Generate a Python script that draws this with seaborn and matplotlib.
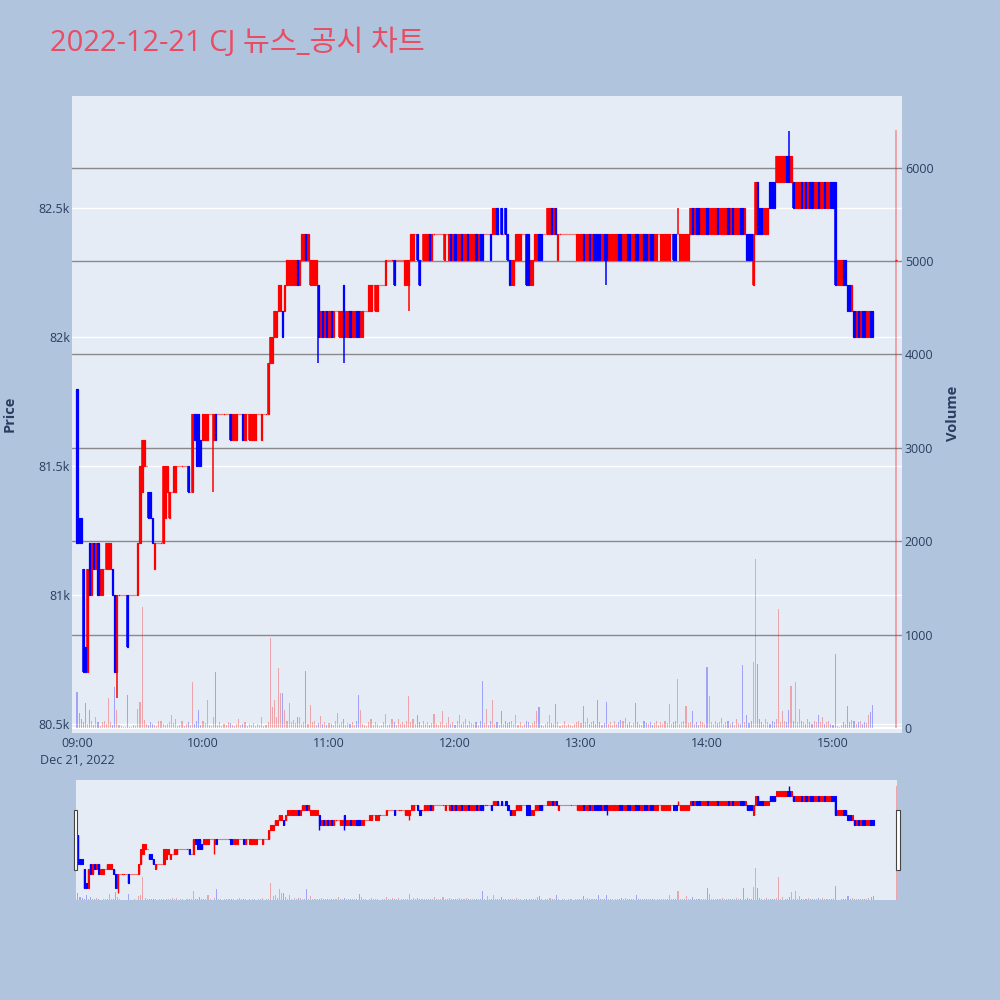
import numpy as np
import pandas as pd
import matplotlib
matplotlib.use("Agg")
import matplotlib.pyplot as plt
from matplotlib.patches import Rectangle
import seaborn as sns

# ---------------- data ----------------
title_text = "2022-12-21 CJ 뉴스_공시 차트"
price_unit = 100  # price lists below are in units of 100 won

# minutes after 09:00 (one candle per minute until 15:19, then the 15:30 closing auction)
session_minutes = list(range(380)) + [390]

opens_100 = [
    818, 813, 813, 811, 808, 807, 812, 810, 812, 811, 812, 810, 810, 811, 811, 811, 811, 811, 810, 807,
    810, 810, 810, 810, 810, 810, 810, 810, 810, 810, 812, 814, 815, 815, 814, 814, 813, 811, 812, 812,
    812, 812, 813, 814, 813, 814, 814, 814, 815, 815, 815, 815, 815, 815, 814, 814, 817, 817, 817, 816,
    816, 816, 816, 817, 817, 816, 817, 817, 817, 817, 817, 817, 817, 817, 816, 816, 816, 817, 817, 817,
    816, 817, 816, 816, 816, 816, 817, 817, 816, 817, 817, 817, 819, 819, 820, 820, 821, 821, 821, 821,
    822, 822, 822, 822, 822, 823, 822, 823, 823, 824, 823, 822, 822, 822, 822, 822, 820, 821, 820, 821,
    820, 821, 820, 821, 821, 820, 820, 822, 820, 820, 821, 820, 820, 821, 821, 820, 820, 821, 821, 821,
    821, 822, 821, 821, 822, 822, 822, 822, 823, 823, 823, 823, 823, 823, 823, 823, 822, 822, 822, 823,
    823, 824, 824, 823, 823, 823, 823, 823, 824, 823, 824, 824, 824, 824, 824, 823, 824, 823, 824, 823,
    824, 823, 823, 824, 823, 823, 824, 823, 823, 823, 824, 823, 824, 824, 824, 824, 824, 824, 824, 824,
    825, 824, 825, 824, 825, 824, 823, 822, 822, 823, 823, 823, 824, 824, 824, 824, 822, 822, 823, 823,
    824, 824, 824, 824, 824, 824, 825, 824, 825, 823, 824, 824, 824, 824, 824, 824, 824, 824, 823, 823,
    823, 824, 823, 823, 824, 823, 824, 824, 824, 824, 823, 824, 824, 823, 823, 823, 823, 823, 824, 824,
    823, 823, 824, 824, 823, 823, 824, 824, 823, 823, 824, 824, 823, 824, 824, 823, 823, 824, 823, 823,
    823, 823, 823, 824, 824, 824, 824, 823, 823, 823, 823, 823, 824, 825, 824, 825, 825, 824, 824, 824,
    825, 824, 824, 824, 824, 825, 824, 824, 824, 824, 825, 824, 825, 824, 824, 824, 825, 825, 824, 824,
    824, 824, 822, 824, 826, 825, 825, 824, 824, 824, 826, 826, 826, 826, 826, 826, 826, 826, 827, 827,
    826, 826, 825, 825, 825, 826, 825, 826, 825, 826, 826, 825, 825, 826, 825, 825, 826, 825, 825, 826,
    826, 826, 822, 822, 822, 823, 823, 822, 822, 821, 821, 820, 821, 820, 821, 821, 820, 820, 821, 821,
    823,
]

closes_100 = [
    812, 812, 812, 807, 807, 811, 810, 812, 811, 812, 810, 811, 811, 811, 812, 812, 812, 810, 807, 810,
    810, 810, 810, 810, 808, 810, 810, 810, 810, 812, 815, 816, 816, 815, 813, 813, 812, 812, 812, 812,
    812, 815, 815, 815, 814, 814, 815, 815, 815, 815, 815, 815, 815, 814, 814, 817, 816, 815, 815, 815,
    817, 817, 817, 817, 817, 817, 816, 817, 817, 817, 817, 817, 817, 816, 817, 817, 817, 817, 817, 816,
    817, 817, 817, 817, 817, 817, 817, 817, 817, 817, 817, 819, 820, 820, 821, 821, 822, 822, 820, 822,
    823, 823, 823, 823, 823, 822, 823, 824, 824, 823, 824, 823, 823, 823, 823, 820, 821, 820, 821, 820,
    821, 820, 821, 821, 821, 821, 821, 820, 821, 821, 820, 821, 821, 820, 820, 821, 821, 821, 821, 822,
    822, 822, 822, 822, 822, 822, 822, 823, 823, 823, 823, 822, 823, 823, 823, 823, 823, 823, 823, 824,
    824, 824, 823, 822, 823, 824, 824, 824, 823, 824, 824, 824, 824, 824, 824, 824, 824, 824, 823, 824,
    823, 824, 824, 823, 824, 824, 823, 824, 824, 824, 823, 824, 823, 823, 824, 824, 824, 823, 825, 825,
    824, 824, 824, 824, 824, 823, 822, 823, 823, 824, 824, 824, 824, 824, 822, 822, 823, 823, 824, 824,
    823, 823, 824, 824, 825, 825, 824, 825, 824, 824, 824, 824, 824, 824, 824, 824, 824, 824, 824, 824,
    824, 823, 824, 824, 823, 824, 823, 823, 823, 823, 824, 823, 823, 824, 824, 824, 824, 824, 823, 823,
    824, 824, 823, 823, 824, 824, 823, 823, 824, 824, 823, 823, 824, 823, 823, 824, 824, 824, 824, 824,
    824, 824, 824, 824, 823, 823, 824, 824, 824, 824, 824, 824, 825, 824, 825, 824, 824, 825, 825, 825,
    824, 825, 825, 825, 825, 824, 825, 825, 825, 825, 824, 825, 824, 825, 825, 825, 824, 824, 825, 823,
    823, 823, 824, 826, 824, 824, 824, 825, 825, 825, 825, 825, 825, 827, 827, 827, 827, 827, 826, 826,
    827, 825, 826, 826, 826, 825, 826, 825, 826, 825, 825, 826, 826, 825, 826, 826, 825, 826, 826, 825,
    825, 822, 823, 823, 823, 822, 822, 821, 821, 822, 820, 821, 820, 821, 820, 820, 821, 821, 820, 820,
    823,
]

# candles whose wick reaches beyond the body
wick_minutes = [19, 65, 115, 127, 158, 252, 286, 339]
wick_highs_100 = [810, 817, 822, 822, 823, 824, 825, 828]
wick_lows_100 = [806, 814, 819, 819, 821, 822, 824, 826]

volumes = [
    385, 160, 100, 60, 265, 40, 195, 80, 30, 120, 60, 25, 60, 80, 40, 320, 60, 30, 440, 195,
    30, 20, 15, 10, 355, 15, 10, 30, 20, 200, 280, 1300, 90, 40, 30, 60, 40, 30, 20, 70,
    80, 40, 30, 40, 60, 140, 50, 100, 20, 30, 80, 20, 40, 60, 30, 490, 40, 70, 195, 30,
    80, 50, 300, 30, 20, 120, 600, 30, 60, 20, 40, 30, 60, 50, 30, 20, 40, 100, 30, 40,
    60, 20, 40, 30, 50, 20, 40, 30, 115, 20, 30, 60, 960, 225, 300, 120, 640, 370, 370, 190,
    80, 270, 60, 90, 50, 120, 120, 40, 60, 610, 40, 250, 60, 80, 30, 50, 130, 40, 60, 30,
    50, 40, 30, 80, 156, 40, 60, 100, 30, 50, 40, 60, 30, 70, 350, 190, 40, 30, 20, 60,
    100, 30, 60, 40, 20, 30, 60, 145, 30, 40, 100, 60, 30, 100, 40, 60, 40, 80, 340, 60,
    100, 40, 140, 60, 30, 80, 40, 60, 30, 50, 155, 40, 30, 60, 180, 30, 50, 120, 40, 60,
    30, 80, 140, 40, 60, 100, 30, 70, 50, 40, 60, 30, 80, 500, 50, 200, 30, 80, 295, 40,
    60, 30, 185, 40, 70, 50, 60, 80, 40, 140, 30, 60, 20, 40, 80, 60, 30, 50, 70, 185,
    220, 30, 20, 40, 60, 140, 50, 40, 260, 60, 20, 30, 75, 20, 40, 30, 20, 40, 60, 80,
    50, 240, 60, 110, 40, 60, 80, 40, 295, 60, 30, 50, 280, 40, 60, 30, 75, 40, 60, 90,
    75, 110, 40, 60, 30, 50, 265, 60, 40, 30, 75, 50, 40, 60, 30, 50, 80, 30, 60, 40,
    70, 50, 260, 40, 60, 80, 525, 40, 60, 80, 240, 50, 60, 177, 40, 60, 30, 80, 60, 40,
    657, 340, 60, 40, 80, 50, 60, 110, 40, 60, 80, 40, 60, 30, 95, 50, 40, 670, 60, 140,
    50, 80, 712, 1812, 680, 95, 60, 40, 95, 60, 40, 80, 60, 100, 1275, 60, 180, 80, 60, 190,
    450, 80, 490, 60, 200, 80, 60, 40, 95, 60, 40, 80, 60, 140, 60, 115, 40, 60, 80, 40,
    30, 795, 20, 15, 30, 60, 40, 240, 60, 90, 75, 40, 60, 80, 40, 60, 50, 140, 170, 250,
    6400,
]

hour_positions = [0, 60, 120, 180, 240, 300, 360]
hour_labels = ["09:00\nDec 21, 2022", "10:00", "11:00", "12:00", "13:00", "14:00", "15:00"]
price_ticks = [80500, 81000, 81500, 82000, 82500]
price_tick_labels = ["80.5k", "81k", "81.5k", "82k", "82.5k"]
volume_ticks = [0, 1000, 2000, 3000, 4000, 5000, 6000]

# ---------------- style ----------------
sns.set_theme(style="white")
plt.rcParams["font.family"] = ["Open Sans", "Noto Sans CJK KR", "DejaVu Sans"]

UP, DOWN = "#FF0000", "#0000FF"
PLOT_BG = "#E5ECF6"
PAPER_BG = "#B0C4DE"
TEXT = "#2a3f5f"

x = np.array(session_minutes, dtype=float)
opens = np.array(opens_100, dtype=float) * price_unit
closes = np.array(closes_100, dtype=float) * price_unit
highs = np.maximum(opens, closes)
lows = np.minimum(opens, closes)
for m, h, l in zip(wick_minutes, wick_highs_100, wick_lows_100):
    i = session_minutes.index(m)
    highs[i] = h * price_unit
    lows[i] = l * price_unit
direction = np.where(closes >= opens, "up", "down")
palette = {"up": UP, "down": DOWN}

df = pd.DataFrame({"minute": x, "volume": volumes, "direction": direction})


def draw_candles(target, body_w, edge_lw, wick_lw):
    for key, col in palette.items():
        sel = direction == key
        target.vlines(x[sel], lows[sel], highs[sel], color=col,
                      linewidth=wick_lw, zorder=3)
        target.bar(x[sel], np.abs(closes - opens)[sel],
                   bottom=np.minimum(opens, closes)[sel], width=body_w,
                   color=col, edgecolor=col, linewidth=edge_lw, zorder=4)


def draw_volume(target):
    sns.barplot(data=df, x="minute", y="volume", hue="direction",
                palette=palette, native_scale=True, dodge=False, width=0.5,
                saturation=1, alpha=0.3, errorbar=None, legend=False,
                linewidth=0, ax=target)


PRICE_LIM = (80465, 82934)
VOL_LIM = (-53.5, 6767)

fig = plt.figure(figsize=(10, 10), dpi=100)
fig.patch.set_facecolor(PAPER_BG)

# ---------------- main chart ----------------
ax = fig.add_axes([0.072, 0.267, 0.830, 0.637])
ax.set_facecolor(PLOT_BG)
ax.grid(False)

for v in volume_ticks[1:]:
    ax.axhline(v, color="#8a8a8a", lw=1.0, zorder=0.5)
for p in price_ticks:
    frac = (p - PRICE_LIM[0]) / (PRICE_LIM[1] - PRICE_LIM[0])
    ax.axhline(VOL_LIM[0] + frac * (VOL_LIM[1] - VOL_LIM[0]), color="white",
               lw=1.0, zorder=0.55)
ax.axhline(0, color="white", lw=1.6, zorder=0.6)

draw_volume(ax)

ax2 = ax.twinx()
ax2.grid(False)
draw_candles(ax2, body_w=0.55, edge_lw=0.9, wick_lw=1.1)

ax.set_xlim(-2.38, 392.86)
ax.set_ylim(*VOL_LIM)
ax2.set_ylim(*PRICE_LIM)

ax.yaxis.tick_right()
ax.set_yticks(volume_ticks, [str(v) for v in volume_ticks])
ax2.yaxis.tick_left()
ax2.set_yticks(price_ticks, price_tick_labels)
ax.set_xticks(hour_positions, hour_labels)
for lab in ax.get_xticklabels():
    lab.set_linespacing(1.35)

for a in (ax, ax2):
    a.set_xlabel("")
    a.set_ylabel("")
    for s in a.spines.values():
        s.set_visible(False)
    a.tick_params(length=0, labelsize=9, colors=TEXT)
ax.tick_params(axis="y", pad=2)
ax2.tick_params(axis="y", pad=1.5)
ax.tick_params(axis="x", pad=3)

fig.text(0.010, 0.586, "Price", rotation=90, ha="center", va="center",
         fontsize=10.5, fontweight="bold", color=TEXT)
fig.text(0.953, 0.587, "Volume", rotation=90, ha="center", va="center",
         fontsize=10.5, fontweight="bold", color=TEXT)
fig.text(0.050, 0.949, title_text, ha="left", va="baseline", fontsize=21,
         color="#EA4C63", family=["Open Sans", "Noto Sans CJK KR"])

# ---------------- range slider ----------------
sl = fig.add_axes([0.0763, 0.100, 0.821, 0.120])
sl.set_facecolor(PLOT_BG)
sl.grid(False)
draw_volume(sl)
sl2 = sl.twinx()
sl2.grid(False)
draw_candles(sl2, body_w=0.55, edge_lw=0.8, wick_lw=1.0)
sl.set_xlim(-0.76, 390.5)
sl.set_ylim(0, 6737)
sl2.set_ylim(80456, 82923)
for a in (sl, sl2):
    a.set_xticks([])
    a.set_yticks([])
    a.set_xlabel("")
    a.set_ylabel("")
    for s in a.spines.values():
        s.set_visible(False)

for hx in (0.0735, 0.8960):
    fig.add_artist(Rectangle((hx, 0.130), 0.0038, 0.060, transform=fig.transFigure,
                             facecolor="white", edgecolor="#444444", lw=0.8, zorder=10))

fig.savefig("out.png", dpi=100, facecolor=PAPER_BG)
